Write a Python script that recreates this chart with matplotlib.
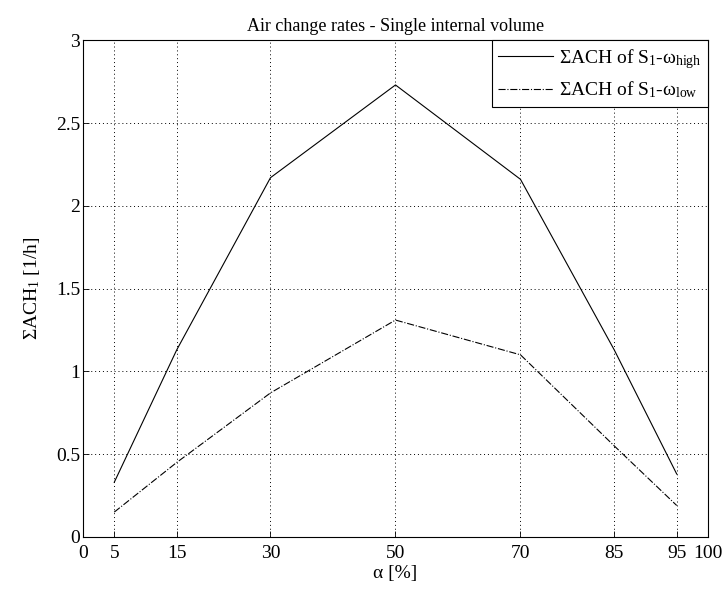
import numpy as np
import matplotlib
matplotlib.use('Agg')
import matplotlib.pyplot as plt

# data
alpha = [5, 15, 30, 50, 70, 85, 95]
ach_high = [0.33, 1.13, 2.17, 2.73, 2.16, 1.13, 0.38]
ach_low = [0.15, 0.45, 0.87, 1.31, 1.10, 0.55, 0.19]
xticks = [0, 5, 15, 30, 50, 70, 85, 95, 100]
yticks = [0, 0.5, 1, 1.5, 2, 2.5, 3]
ytick_labels = ['0', '0.5', '1', '1.5', '2', '2.5', '3']

plt.rcParams['font.family'] = ['Liberation Serif', 'DejaVu Serif']
plt.rcParams['mathtext.fontset'] = 'custom'
plt.rcParams['mathtext.rm'] = 'Liberation Serif'
plt.rcParams['mathtext.it'] = 'Liberation Serif:italic'
plt.rcParams['font.size'] = 14

fig = plt.figure(figsize=(7.28, 5.92), dpi=100)
ax = fig.add_axes([0.114, 0.093, 0.8585, 0.839])

ax.plot(alpha, ach_high, '-', color='black', lw=0.8,
        label='ΣACH of S$_{1}$-ω$_{\\mathrm{high}}$')
ax.plot(alpha, ach_low, '-.', color='black', lw=0.8,
        label='ΣACH of S$_{1}$-ω$_{\\mathrm{low}}$')

ax.set_xlim(0, 100)
ax.set_ylim(0, 3)
ax.set_xticks(xticks)
ax.set_yticks(yticks)
ax.set_yticklabels(ytick_labels)
ax.tick_params(direction='in', length=4, width=0.6, pad=2)
ax.tick_params(axis='x', pad=6)
ax.grid(True, linestyle=(0, (1, 3)), color='black', linewidth=0.7)
for s in ax.spines.values():
    s.set_linewidth(0.8)

ax.set_xlabel('α [%]', labelpad=2)
ax.set_ylabel('ΣACH$_{1}$ [1/h]', labelpad=10)
ax.set_title('Air change rates - Single internal volume', fontsize=13, pad=7)

leg = ax.legend(loc='upper right', fancybox=False, framealpha=1,
                edgecolor='black', borderaxespad=0, handlelength=2.8,
                borderpad=0.35, labelspacing=0.45, handletextpad=0.3)
leg.get_frame().set_linewidth(0.8)

fig.savefig('out.png', dpi=100)
